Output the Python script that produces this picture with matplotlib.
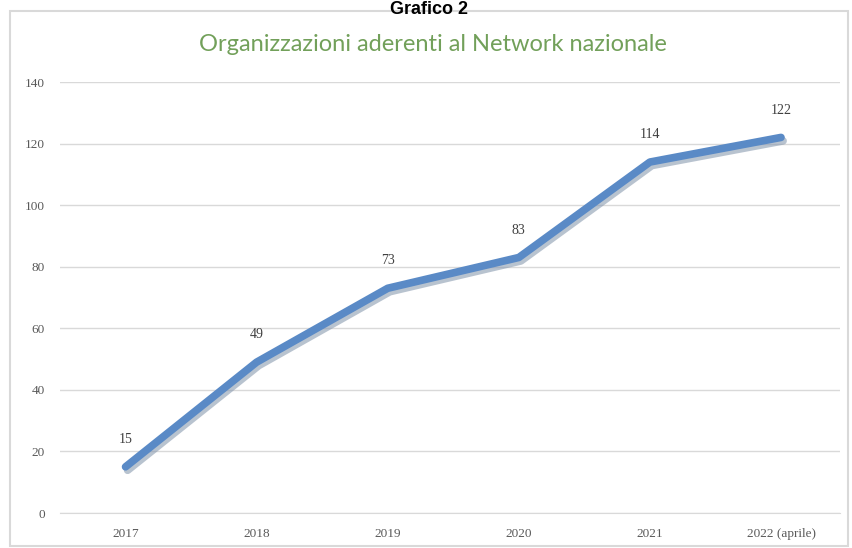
import matplotlib.pyplot as plt
import matplotlib.patheffects as pe
from matplotlib.patches import Rectangle

years = ["2017", "2018", "2019", "2020", "2021", "2022 (aprile)"]
members = [15, 49, 73, 83, 114, 122]
y_ticks = [0, 20, 40, 60, 80, 100, 120, 140]

fig = plt.figure(figsize=(8.53, 5.48), dpi=100)
fig.patch.set_facecolor("white")

# outer chart frame
fig.patches.append(Rectangle((10 / 853, 2 / 548), 838 / 853, 535 / 548,
                             transform=fig.transFigure, fill=False,
                             edgecolor="#d9d9d9", linewidth=1.5))

fig.text(0.503, 0.998, "Grafico 2", ha="center", va="top",
         fontsize=13, fontweight="bold", family="Liberation Sans")
fig.text(0.508, 0.918, "Organizzazioni aderenti al Network nazionale",
         ha="center", va="center", fontsize=17, color="#72a05a", family="Lato")

ax = fig.add_axes([60 / 853, 35 / 548, 780 / 853, 431 / 548])
x = range(len(years))
ax.plot(x, members, color="#5a8ac6", linewidth=5.5, solid_capstyle="round",
        path_effects=[pe.SimpleLineShadow(offset=(1.5, -2.5), shadow_color="#8a9bb0", alpha=0.6),
                      pe.Normal()])
for xi, v in zip(x, members):
    ax.annotate(str(v), (xi, v), xytext=(0, 15), textcoords="offset points",
                ha="center", va="bottom", fontsize=10, color="#404040",
                family="Liberation Serif")

ax.set_xlim(-0.5, 5.45)
ax.set_ylim(0, 140)
ax.set_yticks(y_ticks)
ax.set_xticks(list(x))
ax.set_xticklabels(years)
ax.grid(axis="y", color="#d9d9d9", linewidth=1)
ax.set_axisbelow(True)
for s in ["top", "right", "left"]:
    ax.spines[s].set_visible(False)
ax.spines["bottom"].set_color("#d9d9d9")
ax.tick_params(length=0, labelsize=9.5, labelcolor="#595959", pad=11)
for lab in ax.get_xticklabels() + ax.get_yticklabels():
    lab.set_family("Liberation Serif")

fig.savefig("out.png", dpi=100)
